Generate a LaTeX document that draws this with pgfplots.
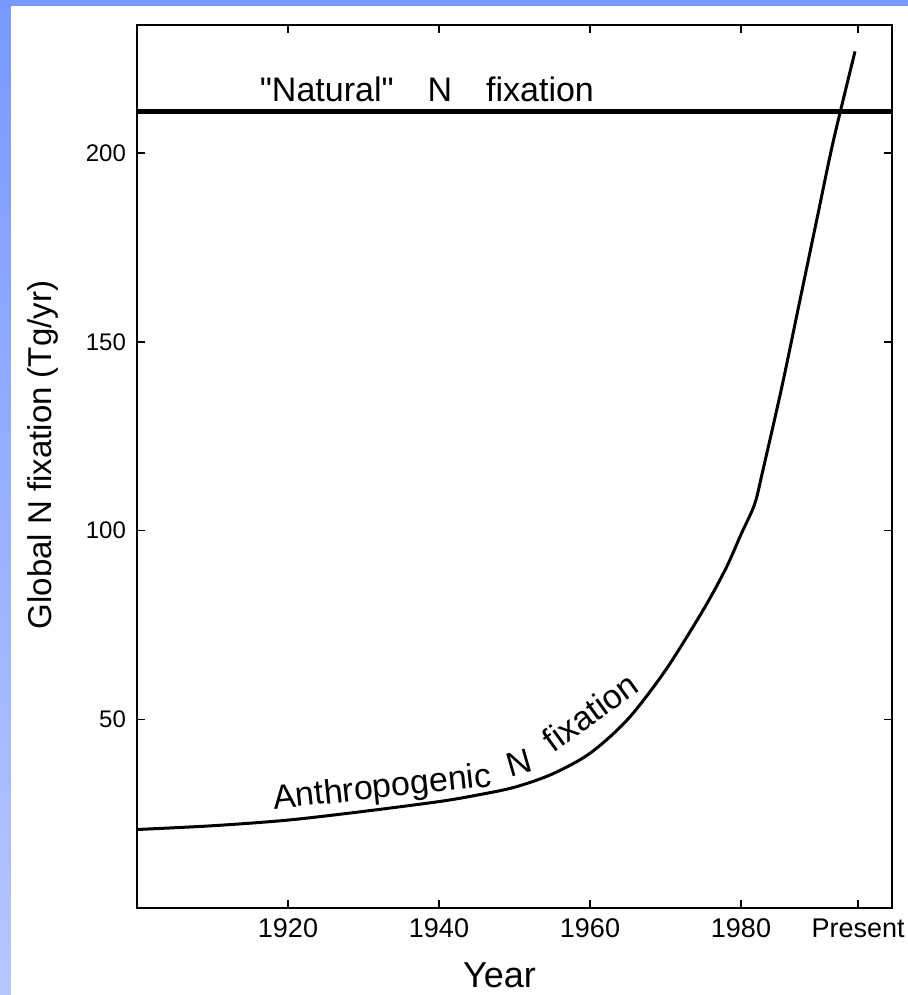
\documentclass[border=0pt]{standalone}
\usepackage{pgfplots}
\pgfplotsset{compat=1.18}
\usepackage{fontspec}
\setmainfont{Liberation Sans}[Ligatures=TeXOff]
\definecolor{slidetop}{RGB}{119,153,255}
\definecolor{slidebot}{RGB}{184,198,255}
\begin{document}
\begin{tikzpicture}
\fill[white] (-68.5pt,-43.5pt) rectangle (385.5pt,454pt);
\shade[top color=slidetop, bottom color=slidebot] (-68.5pt,-43.5pt) rectangle (-63pt,454pt);
\fill[slidetop] (-68.5pt,451pt) rectangle (385.5pt,454pt);
\begin{axis}[
  scale only axis, width=377.5pt, height=441.5pt,
  xmin=1900, xmax=2000, ymin=0, ymax=234,
  axis line style={line width=1pt},
  tick align=inside, major tick length=4pt,
  tick style={line width=0.8pt, black},
  xtick={1920,1940,1960,1980,1995.5},
  xticklabels={1920,1940,1960,1980,Present},
  ytick={50,100,150,200},
  /pgf/number format/assume math mode=true,
  yticklabel style={font=\fontsize{12}{14}\selectfont, xshift=-2pt},
  xticklabel style={font=\fontsize{13.5}{15}\selectfont, yshift=-2pt},
  xlabel={Year},
  xlabel style={font=\fontsize{18}{20}\selectfont, at={(axis description cs:0.48,0)}, anchor=north, yshift=-24pt},
  ylabel={Global N fixation (Tg/yr)},
  ylabel style={font=\fontsize{16.5}{18}\selectfont, at={(axis description cs:0,0.513)}, anchor=center, yshift=47pt},
  clip=false,
]
\addplot[black, line width=2.4pt] coordinates {(1900,211) (2000,211)};
\addplot[black, line width=1.5pt, smooth, tension=0.5] coordinates {
 (1900,20.8) (1910,21.8) (1920,23.3) (1930,25.6) (1940,28.2) (1945,29.9)
 (1950,32) (1955,35.5) (1960,41) (1965,50) (1970,63)
 (1975,79) (1978,90) (1980,99) (1981.8,107) (1982.9,116) (1985.4,138)
 (1987.8,161) (1990.1,183) (1992.2,203) (1995.1,227)};
\node[font=\fontsize{17}{19}\selectfont] at (axis cs:1938.4,217) {"Natural"\quad N\quad fixation};
\node[font=\fontsize{17}{19}\selectfont, rotate=6] at (axis cs:1932.5,31.5) {Anthropogenic};
\node[font=\fontsize{17}{19}\selectfont, rotate=16] at (axis cs:1950.6,38.5) {N};
\node[font=\fontsize{17}{19}\selectfont, rotate=36] at (axis cs:1960.0,52) {fixation};
\end{axis}
\pgfresetboundingbox
\useasboundingbox (-68.5pt,-43.5pt) rectangle (385.5pt,454pt);
\end{tikzpicture}
\end{document}
